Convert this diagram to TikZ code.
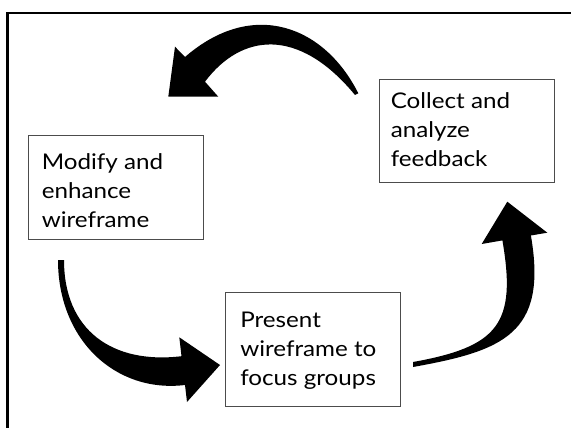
\documentclass[tikz,border=0pt]{standalone}
\usepackage{fontspec}
\setmainfont{Lato}[FakeStretch=1.12]
\begin{document}
\begin{tikzpicture}[x=0.75pt,y=-0.75pt,
  stepbox/.style={draw=black!70, line width=0.9pt, inner sep=0pt, anchor=north west, minimum width=131.25pt},
  steptext/.style={anchor=north west, inner sep=0pt, align=left,
    font=\fontsize{16.2pt}{21.75pt}\selectfont},
  bigarrow/.style={fill=black, draw=none}]
\useasboundingbox (0,0) rectangle (571,428);
\clip (0,0) rectangle (571,428);
\fill[white] (0,0) rectangle (571,428);
% outer frame (runs past the right and bottom edges)
\draw[line width=1.9pt] (7.3,440) -- (7.3,13) -- (590,13);

% the three steps
\node[stepbox, minimum height=78pt] (modify) at (28,135) {};
\node[stepbox, minimum height=77.25pt] (collect) at (379,79) {};
\node[stepbox, minimum height=85.5pt] (present) at (225,292) {};

\node[steptext] (modifytext) at (41.5,153.5) {Modify and\\enhance\\wireframe};
\node[steptext] (collecttext) at (390.5,92.5) {Collect and\\analyze\\feedback};
\node[steptext] (presenttext) at (240,311.5) {Present\\wireframe to\\focus groups};

% curved arrows: collect -> modify
\fill[bigarrow] (358.3,93.3) .. controls (324.5,26) and (253,-2) .. (185,57)
  -- (175,46.7) -- (168.3,96.7) -- (218.3,96.7) -- (205,81.7)
  .. controls (241,33.7) and (298,26) .. (355,95) -- cycle;
% modify -> present
\fill[bigarrow] (58,260) .. controls (58,340) and (115.6,393.3) .. (185,385)
  -- (187,402) -- (220,365) -- (179.3,337.3) -- (181.5,356.2)
  .. controls (112,364.5) and (64,330) .. (64,260) -- cycle;
% present -> collect
\fill[bigarrow] (413,367) .. controls (503,350.8) and (547.9,334) .. (530.9,235.5)
  -- (547.3,232.7) -- (507.3,201.7) -- (481.7,244) -- (502.4,240.4)
  .. controls (516.9,324.1) and (498,346.7) .. (413,362) -- cycle;
\end{tikzpicture}
\end{document}
